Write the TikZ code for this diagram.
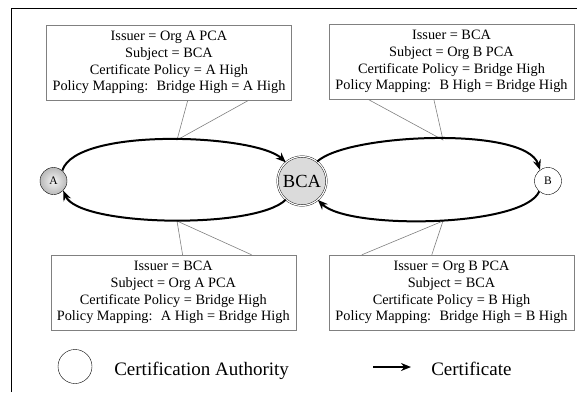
\documentclass[tikz,border=0pt]{standalone}
\usepackage{fontspec}
\setmainfont{Liberation Serif}
\usepackage{tikz}
\usetikzlibrary{arrows.meta}

\begin{document}
\begin{tikzpicture}[x=1pt,y=1pt,>={Stealth[length=10pt,width=8pt]},
                    semithick]
  \tikzstyle{ca}=[circle,draw=black,thin,minimum size=27pt,inner sep=0pt,
                  font=\fontsize{11.5}{12}\selectfont]
  \tikzstyle{certbox}=[rectangle,draw=gray,thin,fill=white,minimum width=245pt,
                       minimum height=75pt,align=center,inner sep=4pt,
                       font=\fontsize{14.3}{16.7}\selectfont]
  \tikzstyle{cert}=[->,line width=2pt]
  \tikzstyle{callout}=[draw=gray,line width=0.6pt]
  \tikzstyle{legend}=[anchor=base west,inner sep=0pt,font=\fontsize{19}{22}\selectfont]

  \useasboundingbox (0,0) rectangle (577,392);
  \draw[line width=0.8pt] (11.5,0) -- (11.5,383.5) -- (577,383.5);

  \node[ca,shading=radial,inner color=gray!8,outer color=gray!55] (A) at (53.5,211) {A};
  \node[ca,double,double distance=1.2pt,fill=gray!28,minimum size=49pt,
        font=\fontsize{18.5}{20}\selectfont] (BCA) at (302,211) {BCA};
  \node[ca,fill=white] (B) at (548,211) {B};

  \node[certbox] (tl) at (169,329.5) {Issuer = Org A PCA\\Subject = BCA\\
    Certificate Policy = A High\\Policy Mapping:~ Bridge High = A High};
  \node[certbox] (tr) at (451.5,330.5) {Issuer = BCA\\Subject = Org B PCA\\
    Certificate Policy = Bridge High\\Policy Mapping:~ B High = Bridge High};
  \node[certbox] (bl) at (173.3,99.5) {Issuer = BCA\\Subject = Org A PCA\\
    Certificate Policy = Bridge High\\Policy Mapping:~ A High = Bridge High};
  \node[certbox] (br) at (451.5,99.5) {Issuer = Org B PCA\\Subject = BCA\\
    Certificate Policy = B High\\Policy Mapping:~ Bridge High = B High};

  % callout tips on the arcs
  \coordinate (tlp) at (177,252);
  \coordinate (trp) at (443,252);
  \coordinate (blp) at (177,171);
  \coordinate (brp) at (443,171);
  \draw[callout] ([xshift=141.5pt]tl.south west) -- (tlp) -- ([xshift=202.5pt]tl.south west);
  \draw[callout] ([xshift=39pt]tr.south west) -- (trp) -- ([xshift=105pt]tr.south west);
  \draw[callout] ([xshift=132pt]bl.north west) -- (blp) -- ([xshift=201pt]bl.north west);
  \draw[callout] ([xshift=33pt]br.north west) -- (brp) -- ([xshift=103pt]br.north west);

  \draw[cert] (A.50) .. controls +(14,44) and +(-30,28) .. (BCA.131);
  \draw[cert] (BCA.229) .. controls +(-30,-30) and +(16,-36) .. (A.-45);
  \draw[cert] (BCA.52) .. controls +(30,28) and +(-14,44) .. (B.126);
  \draw[cert] (B.230) .. controls +(-16,-36) and +(30,-30) .. (BCA.-50);

  % legend
  \node[ca,minimum size=34pt] (cakey) at (75,25.5) {};
  \node[legend] (catext) at (114,16.5) {Certification Authority};
  \coordinate (certa) at (373,25);
  \coordinate (certb) at (411,25);
  \draw[cert] (certa) -- (certb);
  \node[legend] (certtext) at (431,16.5) {Certificate};
\end{tikzpicture}
\end{document}
